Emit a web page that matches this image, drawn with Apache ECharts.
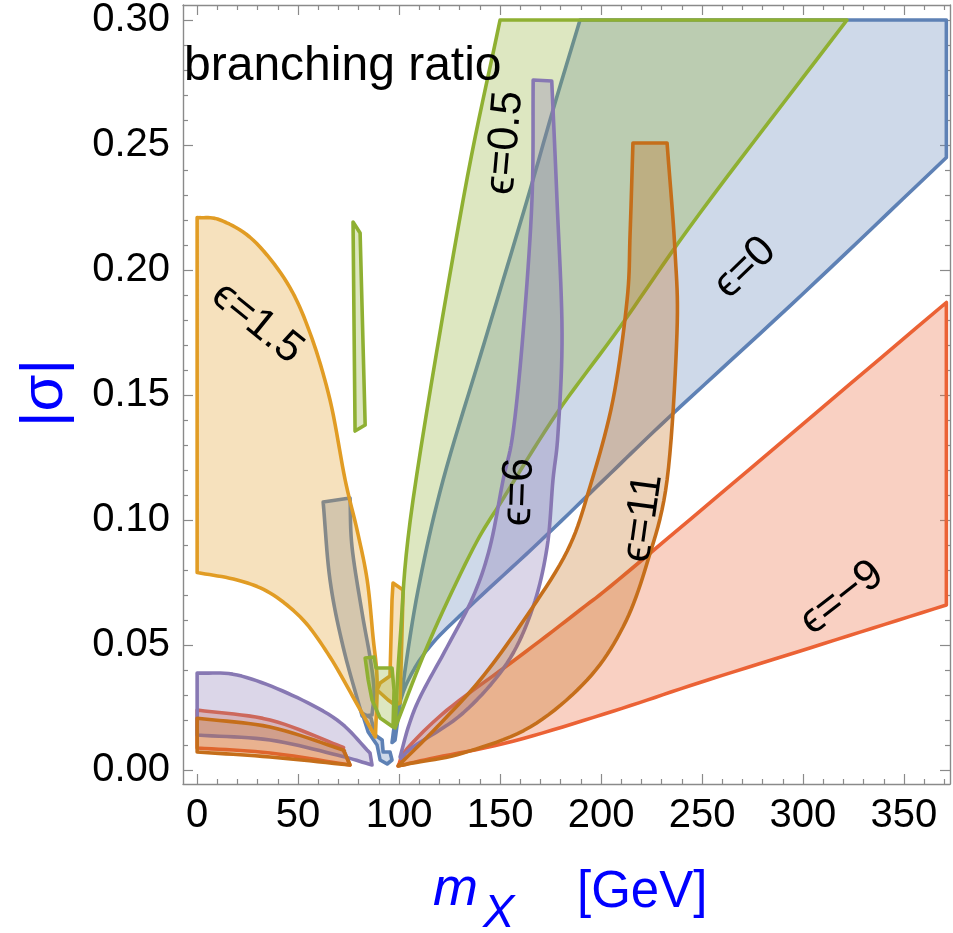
<!DOCTYPE html>
<html><head><meta charset="utf-8">
<script src="https://cdn.jsdelivr.net/npm/echarts@6/dist/echarts.min.js"></script>
<style>html,body{margin:0;padding:0;background:#fff}#chart{width:953px;height:933px}</style>
</head><body><div id="chart"></div><script>
// ---- axis ticks ----
const xMajorTicks = [0, 50, 100, 150, 200, 250, 300, 350];
const xMinorTicks = [10,20,30,40,60,70,80,90,110,120,130,140,160,170,180,190,210,220,230,240,260,270,280,290,310,320,330,340,360,370];
const yMajorTicks = [0, 0.05, 0.10, 0.15, 0.20, 0.25, 0.30];
const yTickLabels = ['0.00', '0.05', '0.10', '0.15', '0.20', '0.25', '0.30'];
const yMinorTicks = [0.01,0.02,0.03,0.04,0.06,0.07,0.08,0.09,0.11,0.12,0.13,0.14,0.16,0.17,0.18,0.19,0.21,0.22,0.23,0.24,0.26,0.27,0.28,0.29];

// ---- regions [m_X, |sigma|] ----
// epsilon = 0 (blue)
const eps0Main = [[98.0,0.012],[101.5,0.032],[109.4,0.072],[121.8,0.116],[142.6,0.172],[163.4,0.228],[176.2,0.264],[189.6,0.300],[371,0.300],[371,0.245],[300,0.1905],[234.2,0.1415],[204.5,0.1185],[169.8,0.0915],[135.1,0.0655],[115.3,0.0495],[104,0.035],[98.5,0.021],[96.5,0.011]];
const eps0Sliver = [[62.4,0.1072],[75.7,0.1088],[76.7,0.0892],[81.7,0.0628],[85.6,0.0452],[87.6,0.032],[86.6,0.022],[81.7,0.0216],[72.3,0.0492],[65.8,0.076]];
const eps0Bottom = [[81.7,0.0228],[86.1,0.0208],[88.1,0.014],[91.6,0.012],[92.1,0.0072],[95.5,0.0072],[96.5,0.004],[94.1,0.0024],[90.6,0.004],[89.1,0.010],[84.7,0.0152]];
// epsilon = 1.5 (orange)
const eps15Main = [[0,0.079],[0,0.221],[11.4,0.220],[27.7,0.212],[44.6,0.1948],[55.9,0.1748],[65.8,0.148],[73.3,0.116],[79.2,0.096],[84.2,0.076],[87.1,0.0532],[89.1,0.036],[88.3,0.0132],[77.2,0.0292],[65.8,0.0452],[52.5,0.060],[36.1,0.0708],[19.8,0.076]];
const eps15Small = [[97.0,0.0748],[102.0,0.072],[100.5,0.0268],[98,0.026],[94.6,0.028],[89.1,0.032],[90.6,0.0348],[95.5,0.0376],[96.5,0.068]];
// epsilon = 0.5 (green)
const eps05Main = [[98,0.0168],[100.5,0.052],[106.9,0.108],[131.7,0.228],[150,0.300],[321.8,0.300],[249,0.2228],[209.4,0.1772],[178.2,0.1428],[151.5,0.1085],[136.6,0.0885],[115.3,0.052]];
const eps05Sliver = [[77.2,0.2192],[80.7,0.2148],[83.2,0.138],[78.2,0.1356]];
const eps05Bottom = [[83.2,0.0448],[87.6,0.0452],[88.6,0.0408],[96.5,0.0408],[97.5,0.032],[97,0.0172],[90.6,0.0208],[86.6,0.028],[84.7,0.036]];
// epsilon = -9 (red)
const epsM9Main = [[99.5,0.0016],[104,0.0085],[123.8,0.024],[156.4,0.0435],[189.6,0.064],[222.8,0.0857],[371,0.187],[371,0.066],[310,0.0505],[249,0.035],[205.9,0.0235],[156.4,0.0115],[115.3,0.0045]];
const epsM9Left = [[0,0.024],[36.1,0.020],[69.3,0.010],[71.8,0.009],[75.7,0.002],[36.1,0.0068],[0,0.0088]];
// epsilon = 6 (purple)
const eps6Main = [[100.5,0.0052],[104.9,0.018],[110.9,0.030],[123.8,0.0492],[136.6,0.0692],[145,0.0892],[151.5,0.116],[156.4,0.1348],[161.4,0.1748],[165.8,0.228],[166.4,0.276],[175.6,0.2756],[178.2,0.228],[180.7,0.1748],[178.7,0.1348],[176.2,0.116],[173.3,0.0892],[166.3,0.0652],[153.5,0.0428],[131.7,0.0228],[106.9,0.0092],[101.5,0.0048]];
const eps6Left = [[0,0.0388],[19.8,0.038],[44.6,0.0308],[69.3,0.020],[85.6,0.0068],[86.6,0.002],[69.3,0.006],[36.1,0.012],[0,0.014]];
// epsilon = 11 (dark orange)
const eps11Main = [[99.5,0.0016],[118.8,0.0172],[140.1,0.036],[161.4,0.0595],[183.2,0.0875],[194.6,0.1135],[205.9,0.148],[212.9,0.188],[214.4,0.2148],[215.8,0.2508],[232.7,0.2508],[236.6,0.208],[237.6,0.1748],[232.7,0.116],[222.8,0.0828],[210.9,0.0572],[193.1,0.036],[164.9,0.0172],[131.7,0.0068],[106.9,0.0028]];
const eps11Left = [[0,0.0207],[36.1,0.0172],[69.3,0.0088],[72.8,0.0075],[75.7,0.002],[36.1,0.0052],[0,0.0072]];

// sharp-corner indices of each boundary (other vertices lie on smooth curves)
const eps0MainCorners = [0,7,8,9,18];
const eps0SliverCorners = [0,1,6,7];
const eps15MainCorners = [0,1,12];
const eps05MainCorners = [0,4,5];
const epsM9MainCorners = [0,6,7];
const epsM9LeftCorners = [0,3,4,6];
const eps6MainCorners = [0,10,11];
const eps6LeftCorners = [0,4,5,8];
const eps11MainCorners = [0,9,10];
const eps11LeftCorners = [0,3,4,6];

// ---- region labels ----
const labelTexts = ['ϵ=1.5', 'ϵ=0.5', 'ϵ=0', 'ϵ=6', 'ϵ=11', 'ϵ=−9'];
const labelX = [29.7, 152.5, 271.3, 159.4, 220.8, 319.3];
const labelY = [0.1788, 0.2508, 0.2008, 0.1112, 0.1008, 0.0688];
const labelAngle = [-39, 85, 44, 88, 82, 38];

const FONT = '"Liberation Sans", Arial, Helvetica, sans-serif';
const FRAME = '#8a8a8a';
const C = {blue:'#5E81B5', orange:'#E19C24', green:'#8FB032', red:'#EB6235', purple:'#8778B3', dorange:'#C56E1A'};

function rgba(hex, a){
  const n = parseInt(hex.slice(1),16);
  return 'rgba(' + ((n>>16)&255) + ',' + ((n>>8)&255) + ',' + (n&255) + ',' + a + ')';
}
// Catmull-Rom drawing path through pixel points between sharp corners
function smoothPath(px, corners){
  const n = px.length;
  if (!corners) corners = px.map((_, i) => i);
  const out = [];
  for (let c = 0; c < corners.length; c++) {
    const a = corners[c], b = corners[(c+1) % corners.length];
    const seg = [];
    let i = a;
    while (true) { seg.push(px[i]); if (i === b) break; i = (i+1) % n; }
    if (seg.length <= 2) { out.push(seg[0]); continue; }
    for (let k = 0; k < seg.length - 1; k++) {
      const p1 = seg[k], p2 = seg[k+1];
      const p0 = k > 0 ? seg[k-1] : [2*p1[0]-p2[0], 2*p1[1]-p2[1]];
      const p3 = k+2 < seg.length ? seg[k+2] : [2*p2[0]-p1[0], 2*p2[1]-p1[1]];
      const steps = 10;
      for (let s = 0; s < steps; s++) {
        const t = s/steps, t2 = t*t, t3 = t2*t;
        const f = (q0,q1,q2,q3) => 0.5*((2*q1) + (-q0+q2)*t + (2*q0-5*q1+4*q2-q3)*t2 + (-q0+3*q1-3*q2+q3)*t3);
        out.push([f(p0[0],p1[0],p2[0],p3[0]), f(p0[1],p1[1],p2[1],p3[1])]);
      }
    }
  }
  return out;
}
function region(points, color, corners){
  return {
    type:'custom', xAxisIndex:0, yAxisIndex:0, clip:true, silent:true,
    data: points,
    renderItem: function(params, api){
      if (params.dataIndexInside !== 0) return null;
      const pts = [];
      for (let i = 0; i < params.dataInsideLength; i++) {
        pts.push(api.coord([api.value(0,i), api.value(1,i)]));
      }
      return {type:'polygon', shape:{points:smoothPath(pts, corners)},
        style:{fill:rgba(color,0.3), stroke:color, lineWidth:3.6, lineJoin:'round'}};
    }
  };
}
const labelData = labelX.map((x,i)=>[x, labelY[i], i]);
const labelSeries = {
  type:'custom', xAxisIndex:0, yAxisIndex:0, silent:true, z:10,
  data: labelData,
  renderItem: function(params, api){
    const p = api.coord([api.value(0), api.value(1)]);
    const i = api.value(2);
    return {type:'text', x:p[0], y:p[1], rotation: labelAngle[i]*Math.PI/180,
      style:{text:labelTexts[i], fontSize:43, fontFamily:FONT, fill:'#000', align:'center', verticalAlign:'middle'}};
  }
};

function xAx(grid, pos, ticks, len, labels){
  return {type:'value', gridIndex:grid, position:pos, min:-7, max:372.8,
    axisLine:{show:grid===0, onZero:false, lineStyle:{color:FRAME, width:1.4}},
    axisTick:{show:true, inside:true, length:len, customValues:ticks, lineStyle:{color:FRAME, width:1.2}},
    axisLabel:{show:labels, customValues:ticks, margin:12, fontSize:40, fontFamily:FONT, color:'#000'},
    splitLine:{show:false}};
}
function yAx(grid, pos, ticks, len, labels){
  return {type:'value', gridIndex:grid, position:pos, min:-0.0056, max:0.306,
    axisLine:{show:grid===0, onZero:false, lineStyle:{color:FRAME, width:1.4}},
    axisTick:{show:true, inside:true, length:len, customValues:ticks, lineStyle:{color:FRAME, width:1.2}},
    axisLabel:{show:labels, customValues:ticks, margin:13, fontSize:40, fontFamily:FONT, color:'#000',
      formatter:function(v){ const k = yMajorTicks.findIndex(t=>Math.abs(t-v)<1e-9); return k>=0 ? yTickLabels[k] : ''; }},
    splitLine:{show:false}};
}

const chart = echarts.init(document.getElementById('chart'), null, {renderer:'canvas'});
chart.setOption({
  animation:false,
  backgroundColor:'#fff',
  grid:[{left:183, right:3, top:5, bottom:149}, {left:183, right:3, top:5, bottom:149}],
  xAxis:[xAx(0,'bottom',xMajorTicks,10,true), xAx(0,'top',xMajorTicks,10,false),
         xAx(1,'bottom',xMinorTicks,5,false), xAx(1,'top',xMinorTicks,5,false)],
  yAxis:[yAx(0,'left',yMajorTicks,10,true), yAx(0,'right',yMajorTicks,10,false),
         yAx(1,'left',yMinorTicks,5,false), yAx(1,'right',yMinorTicks,5,false)],
  series:[
    region(eps0Main, C.blue, eps0MainCorners), region(eps0Sliver, C.blue, eps0SliverCorners), region(eps0Bottom, C.blue),
    region(eps15Main, C.orange, eps15MainCorners), region(eps15Small, C.orange),
    region(eps05Main, C.green, eps05MainCorners), region(eps05Sliver, C.green), region(eps05Bottom, C.green),
    region(epsM9Main, C.red, epsM9MainCorners), region(epsM9Left, C.red, epsM9LeftCorners),
    region(eps6Main, C.purple, eps6MainCorners), region(eps6Left, C.purple, eps6LeftCorners),
    region(eps11Main, C.dorange, eps11MainCorners), region(eps11Left, C.dorange, eps11LeftCorners),
    labelSeries
  ],
  graphic:[
    {type:'text', x:184, y:67, z:100, style:{text:'branching ratio', fontSize:48, fontFamily:FONT, fill:'#000', align:'left', verticalAlign:'middle'}},
    {type:'text', x:45, y:393, rotation:Math.PI/2, z:100, style:{text:'|σ|', fontSize:60, fontFamily:FONT, fill:'#0000ff', align:'center', verticalAlign:'middle'}},
    {type:'text', x:433, y:890, z:100, style:{text:'m', fontSize:54, fontStyle:'italic', fontFamily:FONT, fill:'#0000ff', align:'left', verticalAlign:'middle'}},
    {type:'text', x:483, y:914, z:100, style:{text:'X', fontSize:47, fontStyle:'italic', fontFamily:FONT, fill:'#0000ff', align:'left', verticalAlign:'middle'}},
    {type:'text', x:577, y:893, z:100, style:{text:'[GeV]', fontSize:51, fontFamily:FONT, fill:'#0000ff', align:'left', verticalAlign:'middle'}}
  ]
});
</script></body></html>
